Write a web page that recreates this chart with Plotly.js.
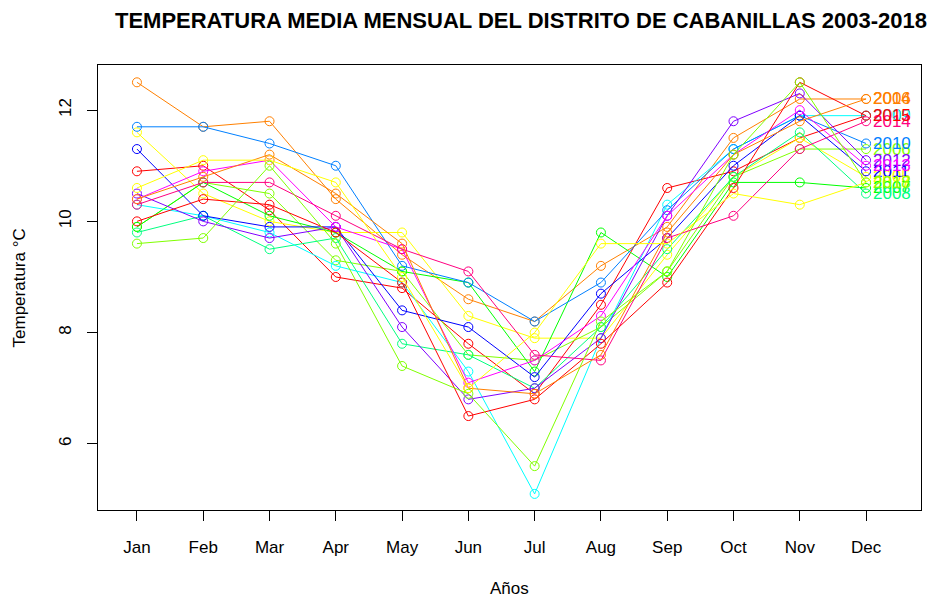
<!DOCTYPE html>
<html>
<head>
<meta charset="utf-8">
<script src="https://cdn.plot.ly/plotly-3.0.1.min.js"></script>
<style>html,body{margin:0;padding:0;background:#fff;}#chart{width:933px;height:598px;}</style>
</head>
<body>
<div id="chart"></div>
<script>
var months = ["Jan","Feb","Mar","Apr","May","Jun","Jul","Aug","Sep","Oct","Nov","Dec"];
var years = ["2003","2004","2005","2006","2007","2008","2009","2010","2011","2012","2013","2014","2015","2016","2017","2018"];
var palette = ["#FF0000","#FF8000","#FFFF00","#80FF00","#00FF00","#00FF80","#00FFFF","#0080FF","#0000FF","#8000FF","#FF00FF","#FF0080"];

var t2003 = [10.9, 11.0, 10.2, 9.0, 8.8, 7.8, 6.9, 8.5, 10.6, 10.9, 11.5, 11.9];
var t2004 = [12.5, 11.7, 11.8, 10.4, 9.4, 8.6, 8.2, 9.2, 9.9, 11.5, 12.2, 12.2];
var t2005 = [11.6, 10.5, 10.0, 9.8, 9.8, 8.3, 7.9, 7.9, 9.4, 10.8, 11.5, 10.8];
var t2006 = [9.9, 10.7, 10.5, 9.3, 9.1, 7.6, 7.5, 8.1, 9.1, 10.8, 11.3, 11.3];
var t2007 = [9.9, 10.7, 10.1, 9.8, 9.1, 8.9, 7.3, 9.8, 9.0, 10.7, 10.7, 10.6];
var t2008 = [9.8, 10.1, 9.5, 9.7, 7.8, 7.6, 7.0, 8.1, 9.5, 10.8, 11.6, 10.5];
var t2009 = [10.3, 10.1, 9.8, 9.2, 8.9, 7.3, 5.1, 7.9, 10.3, 11.3, 11.9, 11.9];
var t2010 = [11.7, 11.7, 11.4, 11.0, 9.2, 8.9, 8.2, 8.9, 10.2, 11.3, 11.9, 11.4];
var t2011 = [11.3, 10.1, 9.9, 9.9, 8.4, 8.1, 7.2, 8.7, 9.7, 11.0, 11.9, 10.9];
var t2012 = [10.5, 10.0, 9.7, 9.9, 8.1, 6.8, 7.0, 7.9, 10.1, 11.8, 12.3, 11.1];
var t2013 = [10.4, 10.9, 11.1, 9.9, 9.5, 7.1, 7.5, 8.3, 10.1, 11.2, 12.0, 11.0];
var t2014 = [10.3, 10.7, 10.7, 10.1, 9.5, 9.1, 7.6, 7.5, 9.7, 10.1, 11.3, 11.8];
var t2015 = [10.0, 10.4, 10.3, 9.8, 8.9, 6.5, 6.8, 7.8, 8.9, 10.6, 12.5, 11.9];
var t2016 = [10.4, 10.8, 11.2, 10.5, 9.6, 7.0, 6.9, 7.6, 9.8, 11.2, 11.8, 12.2];
var t2017 = [10.6, 11.1, 11.1, 10.7, 9.0, 7.0, 8.0, 9.6, 9.6, 10.5, 10.3, 10.7];
var t2018 = [9.6, 9.7, 11.0, 9.6, 7.4, 6.9, 5.6, 8.2, 9.1, 11.2, 12.5, 10.7];

var series = [t2003,t2004,t2005,t2006,t2007,t2008,t2009,t2010,t2011,t2012,t2013,t2014,t2015,t2016,t2017,t2018];
var xs = months.map(function(m,i){return i+1;});
var FONT = "Liberation Sans, Arial, Helvetica, sans-serif";

var traces = [];
var annots = [];
series.forEach(function(vals, i){
  var col = palette[i % palette.length];
  traces.push({
    type: "scatter", mode: "lines+markers", x: xs, y: vals, name: years[i],
    line: {color: col, width: 1},
    marker: {symbol: "circle-open", size: 9, color: col, line: {color: col, width: 1}},
    hoverinfo: "x+y+name"
  });
  annots.push({
    x: xs[xs.length-1], y: vals[vals.length-1], xref: "x", yref: "y",
    text: years[i], showarrow: false, xanchor: "left", yanchor: "middle",
    xshift: 5, font: {family: FONT, size: 17, color: col}
  });
});

annots.push({x: 0.5, y: -0.176, xref: "paper", yref: "paper", text: "Años", showarrow: false,
  xanchor: "center", yanchor: "middle", font: {family: FONT, size: 17, color: "#000"}});
annots.push({x: -0.0948, y: 0.5, xref: "paper", yref: "paper", text: "Temperatura °C", showarrow: false,
  textangle: -90, xanchor: "center", yanchor: "middle", font: {family: FONT, size: 17, color: "#000"}});

var layout = {
  width: 933, height: 598,
  margin: {l: 98, r: 12, t: 65, b: 88, pad: 0},
  paper_bgcolor: "#fff", plot_bgcolor: "#fff",
  showlegend: false,
  title: {text: "<b>TEMPERATURA MEDIA MENSUAL DEL DISTRITO DE CABANILLAS 2003-2018</b>",
    x: 0.5584, xanchor: "center", y: 0.966, yanchor: "middle", xref: "container", yref: "container",
    font: {family: FONT, size: 22, color: "#000"}},
  xaxis: {
    range: [0.4123, 12.829], tickmode: "array", tickvals: xs, ticktext: months,
    showgrid: false, zeroline: false, showline: true, mirror: true, linecolor: "#000", linewidth: 1,
    ticks: "outside", ticklen: 10, tickcolor: "#000", tickwidth: 1,
    ticklabelstandoff: 12,
    tickfont: {family: FONT, size: 17, color: "#000"}
  },
  yaxis: {
    range: [4.811, 12.811], tickmode: "array", tickvals: [6, 8, 10, 12], ticktext: ["6","8","10","12"],
    showgrid: false, zeroline: false, showline: true, mirror: true, linecolor: "#000", linewidth: 1,
    ticks: "outside", ticklen: 10, tickcolor: "#000", tickwidth: 1,
    tickangle: -90, ticklabelstandoff: 9,
    tickfont: {family: FONT, size: 17, color: "#000"}
  },
  annotations: annots
};

Plotly.newPlot("chart", traces, layout, {displayModeBar: false, staticPlot: true});
</script>
</body>
</html>
